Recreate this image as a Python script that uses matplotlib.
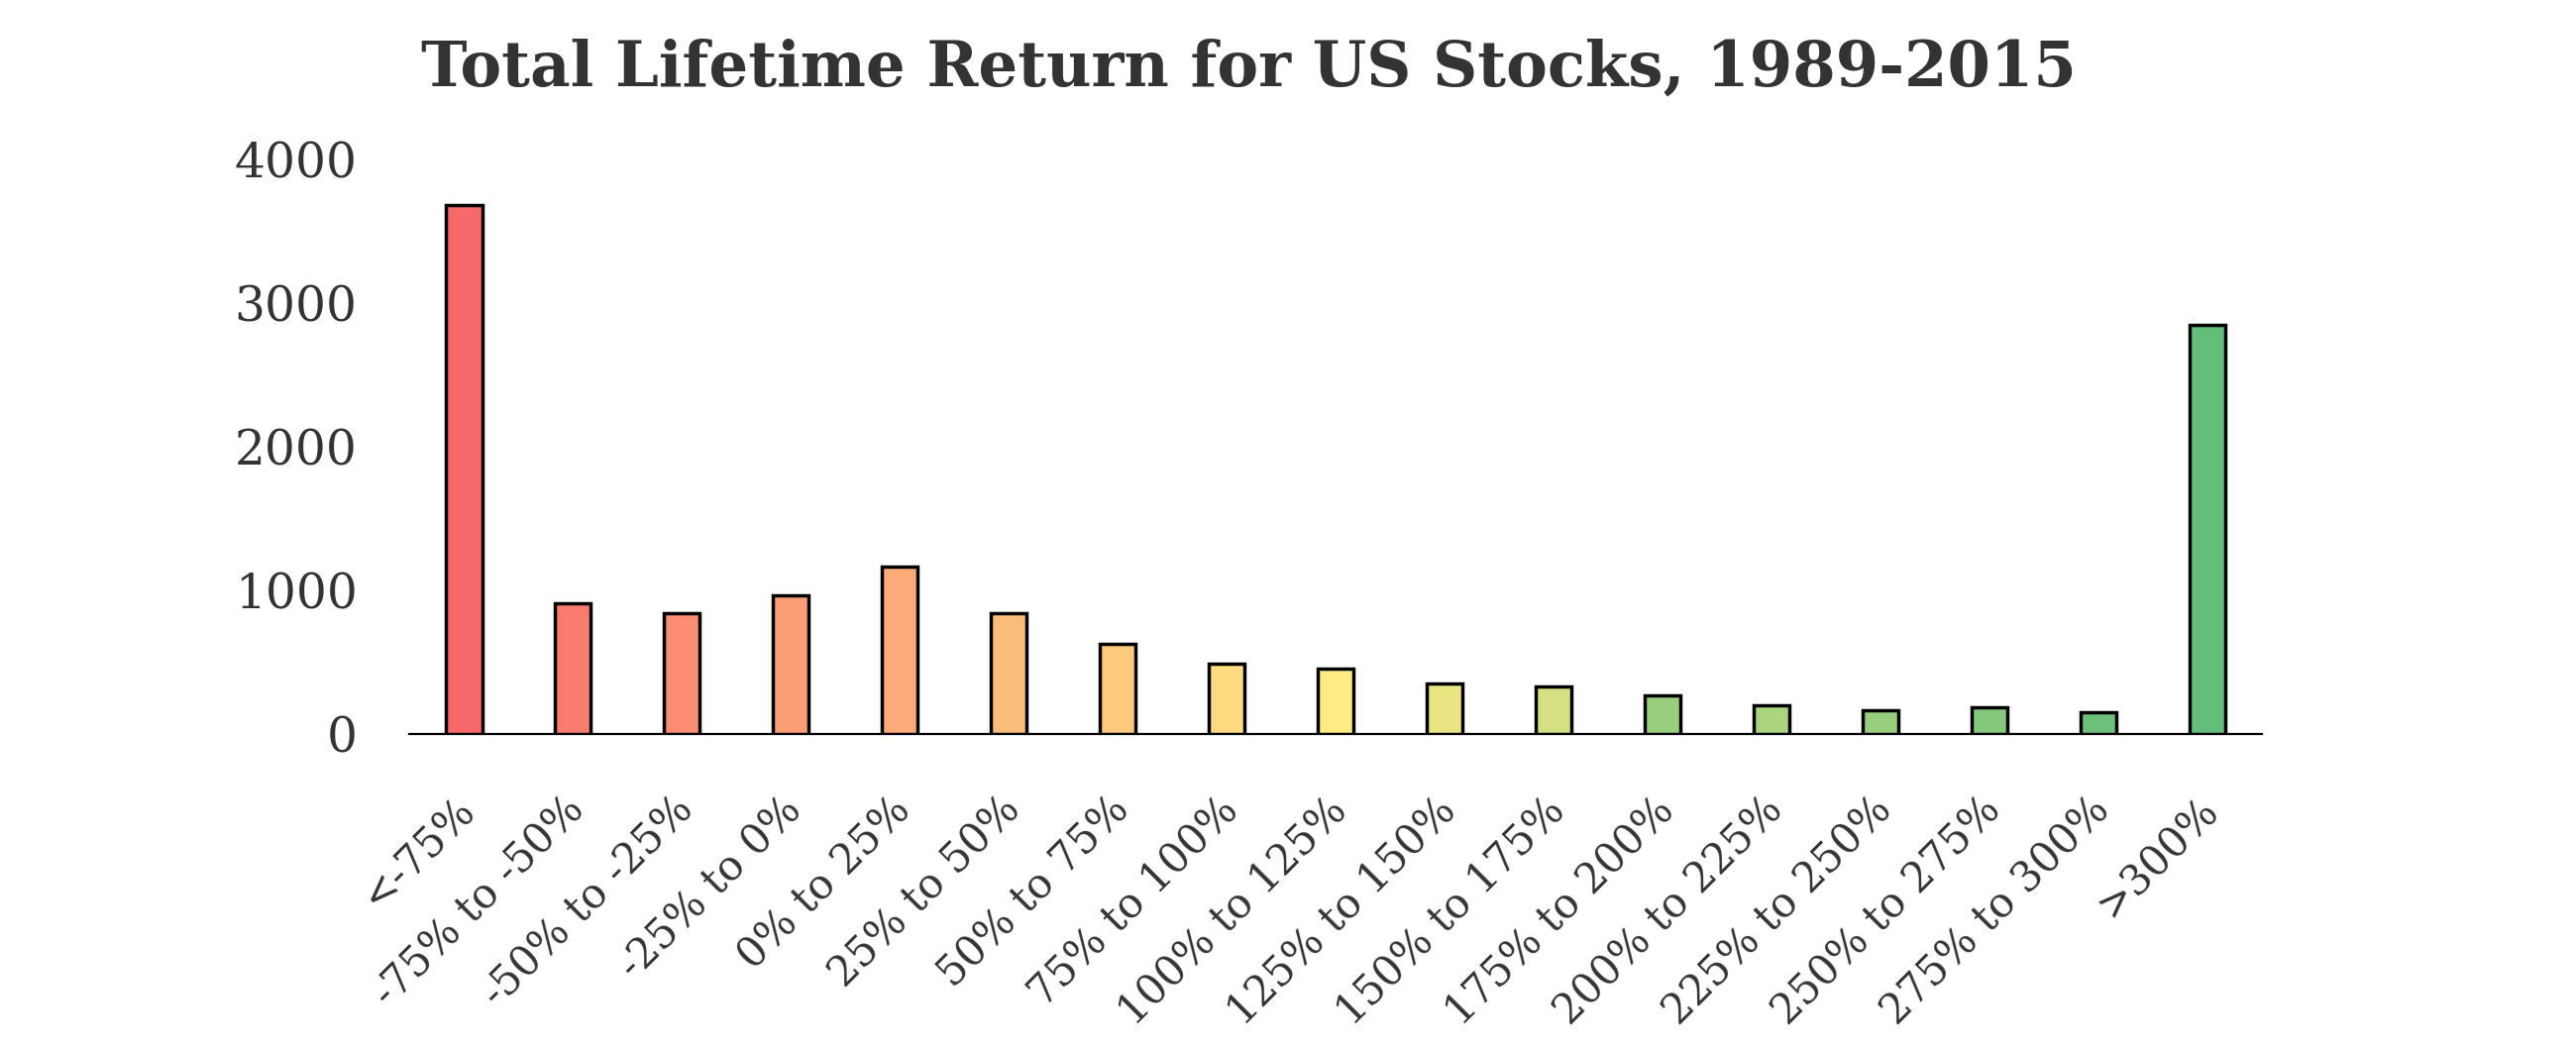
import matplotlib
matplotlib.use("Agg")
import matplotlib.pyplot as plt
from matplotlib.transforms import ScaledTranslation

categories = ["<-75%", "-75% to -50%", "-50% to -25%", "-25% to 0%", "0% to 25%",
              "25% to 50%", "50% to 75%", "75% to 100%", "100% to 125%", "125% to 150%",
              "150% to 175%", "175% to 200%", "200% to 225%", "225% to 250%",
              "250% to 275%", "275% to 300%", ">300%"]
counts = [3680, 910, 840, 963, 1168, 840, 625, 487, 453, 352, 332, 266, 200, 166, 184, 149, 2845]
colors = ["#F8696B", "#F97C6E", "#FA8D72", "#FB9D75", "#FBAB78", "#FCBC7B", "#FDCA7D",
          "#FEDB81", "#FFEB84", "#EAE583", "#D6E082", "#98CF7D", "#ABD47F", "#98CF7D",
          "#84C87C", "#6DC17B", "#63BE7B"]
yticks = [0, 1000, 2000, 3000, 4000]
title = "Total Lifetime Return for US Stocks, 1989-2015"

text_color = "#333333"
fig = plt.figure(figsize=(26, 10.59), dpi=100)
ax = fig.add_axes([0.159, 0.3003, 0.719, 0.5477])

x = list(range(len(categories)))
ax.bar(x, counts, width=0.33, color=colors, edgecolor="black", linewidth=2.5, zorder=3)

ax.set_xlim(-0.5, len(categories) - 0.5)
ax.set_ylim(0, 4000)
ax.set_yticks(yticks)
ax.set_yticklabels([str(v) for v in yticks], fontsize=35, family="DejaVu Serif", color=text_color)
ax.set_xticks(x)
ax.set_xticklabels(categories, rotation=45, ha="right", rotation_mode="anchor",
                   fontsize=30, family="DejaVu Serif", color=text_color)
ax.tick_params(axis="y", length=0, pad=38)
ax.tick_params(axis="x", length=0, pad=40)
shift = ScaledTranslation(-0.10, 0.0, fig.dpi_scale_trans)
for lbl in ax.get_xticklabels():
    lbl.set_transform(lbl.get_transform() + shift)

for s in ["top", "right", "left"]:
    ax.spines[s].set_visible(False)
ax.spines["bottom"].set_linewidth(1.6)
ax.spines["bottom"].set_color("black")

fig.text(0.4846, 0.935, title, ha="center", va="center", fontsize=45,
         family="DejaVu Serif", weight="bold", color=text_color)

fig.savefig("out.png", dpi=100)
